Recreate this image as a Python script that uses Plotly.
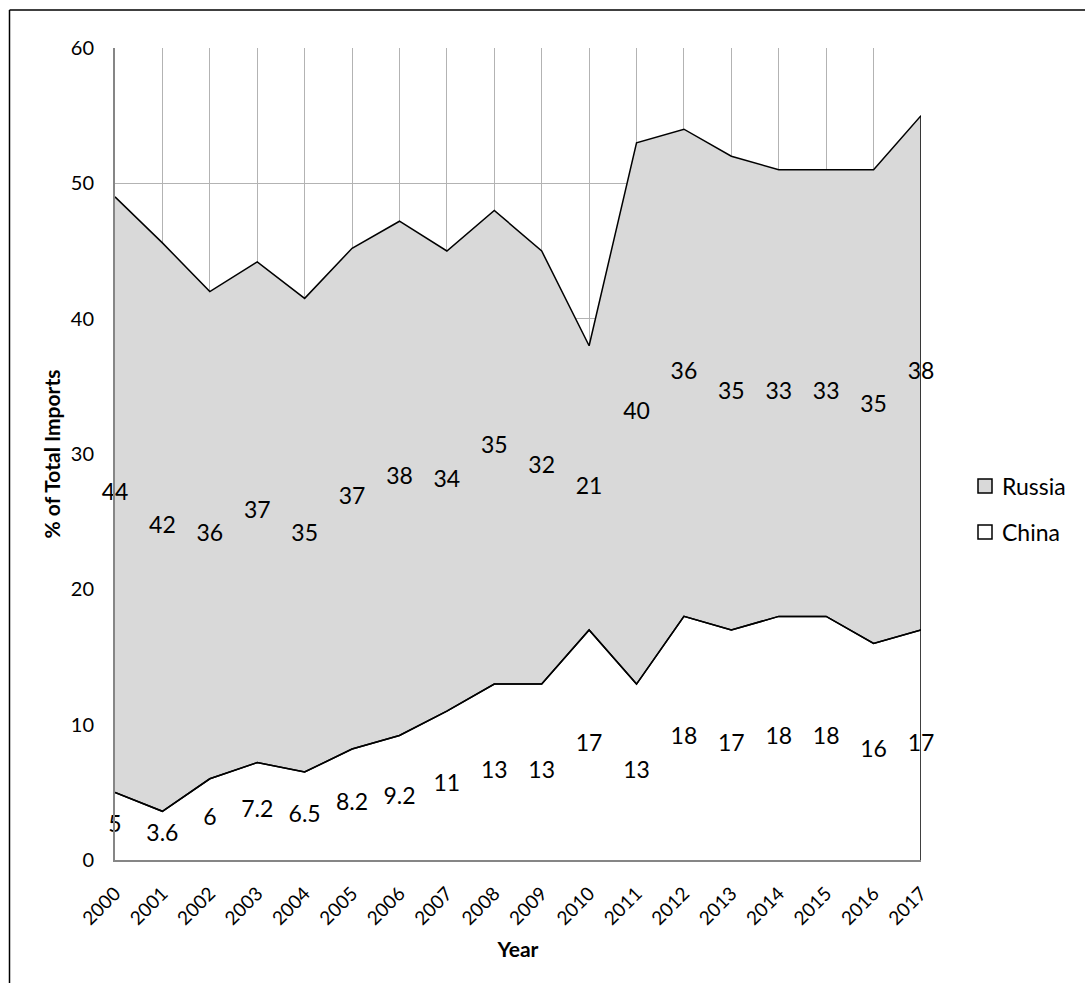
import plotly.graph_objects as go

years = list(range(2000, 2018))
year_labels = [str(y) for y in years]
china = [5, 3.6, 6, 7.2, 6.5, 8.2, 9.2, 11, 13, 13, 17, 13, 18, 17, 18, 18, 16, 17]
russia = [44, 42, 36, 37, 35, 37, 38, 34, 35, 32, 21, 40, 36, 35, 33, 33, 35, 38]
series_names = ["Russia", "China"]

FONT = "Lato"
GREY_FILL = "#d9d9d9"
W, H = 1085, 983
ML, MR, MT, MB = 115, 164, 48, 123
PW, PH = W - ML - MR, H - MT - MB

total = [c + r for c, r in zip(china, russia)]
china_mid = [c / 2 for c in china]
russia_mid = [c + r / 2 for c, r in zip(china, russia)]


def px_x(px):
    """pixel column -> paper x"""
    return (px - ML) / PW


def px_y(py):
    """pixel row -> paper y"""
    return (H - MB - py) / PH


fig = go.Figure()

# Stacked areas: China at the bottom (white), Russia stacked on top (grey)
fig.add_trace(go.Scatter(
    x=years, y=china, mode="lines", fill="tozeroy", fillcolor="white",
    line=dict(color="black", width=1.5), showlegend=False, hoverinfo="skip"))
fig.add_trace(go.Scatter(
    x=years, y=total, mode="lines", fill="tonexty", fillcolor=GREY_FILL,
    line=dict(color="black", width=1.5), showlegend=False, hoverinfo="skip"))
# redraw the China outline above the Russia fill
fig.add_trace(go.Scatter(
    x=years, y=china, mode="lines",
    line=dict(color="black", width=1.5), showlegend=False, hoverinfo="skip"))
# right-hand edge of the stacked outline
fig.add_trace(go.Scatter(
    x=[years[-1], years[-1]], y=[0, total[-1]], mode="lines",
    line=dict(color="black", width=1.5), showlegend=False, hoverinfo="skip",
    cliponaxis=False))

# data labels in the middle of each band
fig.add_trace(go.Scatter(
    x=years, y=russia_mid, mode="text", text=[f"{v:g}" for v in russia],
    textfont=dict(family=FONT, size=23, color="black"), textposition="middle center",
    showlegend=False, hoverinfo="skip", cliponaxis=False))
fig.add_trace(go.Scatter(
    x=years, y=china_mid, mode="text", text=[f"{v:g}" for v in china],
    textfont=dict(family=FONT, size=23, color="black"), textposition="middle center",
    showlegend=False, hoverinfo="skip", cliponaxis=False))

# legend: swatch + label for each series
legend_fills = [GREY_FILL, "white"]
legend_rows = [486, 532]
for name, fillc, row in zip(series_names, legend_fills, legend_rows):
    fig.add_shape(type="rect", xref="paper", yref="paper",
                  x0=px_x(978), x1=px_x(992), y0=px_y(row + 7), y1=px_y(row - 7),
                  fillcolor=fillc, line=dict(color="black", width=1.5))
    fig.add_annotation(xref="paper", yref="paper", x=px_x(1000), y=px_y(row),
                       xanchor="left", yanchor="middle", showarrow=False,
                       text=name, font=dict(family=FONT, size=23, color="black"))

# outer chart frame
fig.add_shape(type="line", xref="paper", yref="paper", x0=px_x(9.5), x1=px_x(9.5),
              y0=px_y(H + 5), y1=px_y(10), line=dict(color="black", width=1.5))
fig.add_shape(type="line", xref="paper", yref="paper", x0=px_x(9.5), x1=px_x(W + 5),
              y0=px_y(10), y1=px_y(10), line=dict(color="black", width=1.5))

fig.update_layout(
    width=W, height=H,
    margin=dict(l=ML, r=MR, t=MT, b=MB, autoexpand=False),
    plot_bgcolor="white", paper_bgcolor="white",
    font=dict(family=FONT, size=20, color="black"),
    showlegend=False,
    xaxis=dict(
        range=[years[0], years[-1]], tickvals=years, ticktext=year_labels,
        tickangle=-45, showgrid=True, gridcolor="#b3b3b3", gridwidth=1,
        showline=True, linecolor="#868686", linewidth=2, zeroline=False,
        ticks="", ticklabelstandoff=13, tickfont=dict(size=19),
        title=dict(text="<b>Year</b>", font=dict(size=21), standoff=14)),
    yaxis=dict(
        range=[0, 60], dtick=10, showgrid=True, gridcolor="#b3b3b3", gridwidth=1,
        showline=True, linecolor="#868686", linewidth=2, zeroline=False,
        ticks="", ticklabelstandoff=15, tickfont=dict(size=20),
        title=dict(text="<b>% of Total Imports</b>", font=dict(size=21), standoff=4)),
)

fig.write_html("out.html")
